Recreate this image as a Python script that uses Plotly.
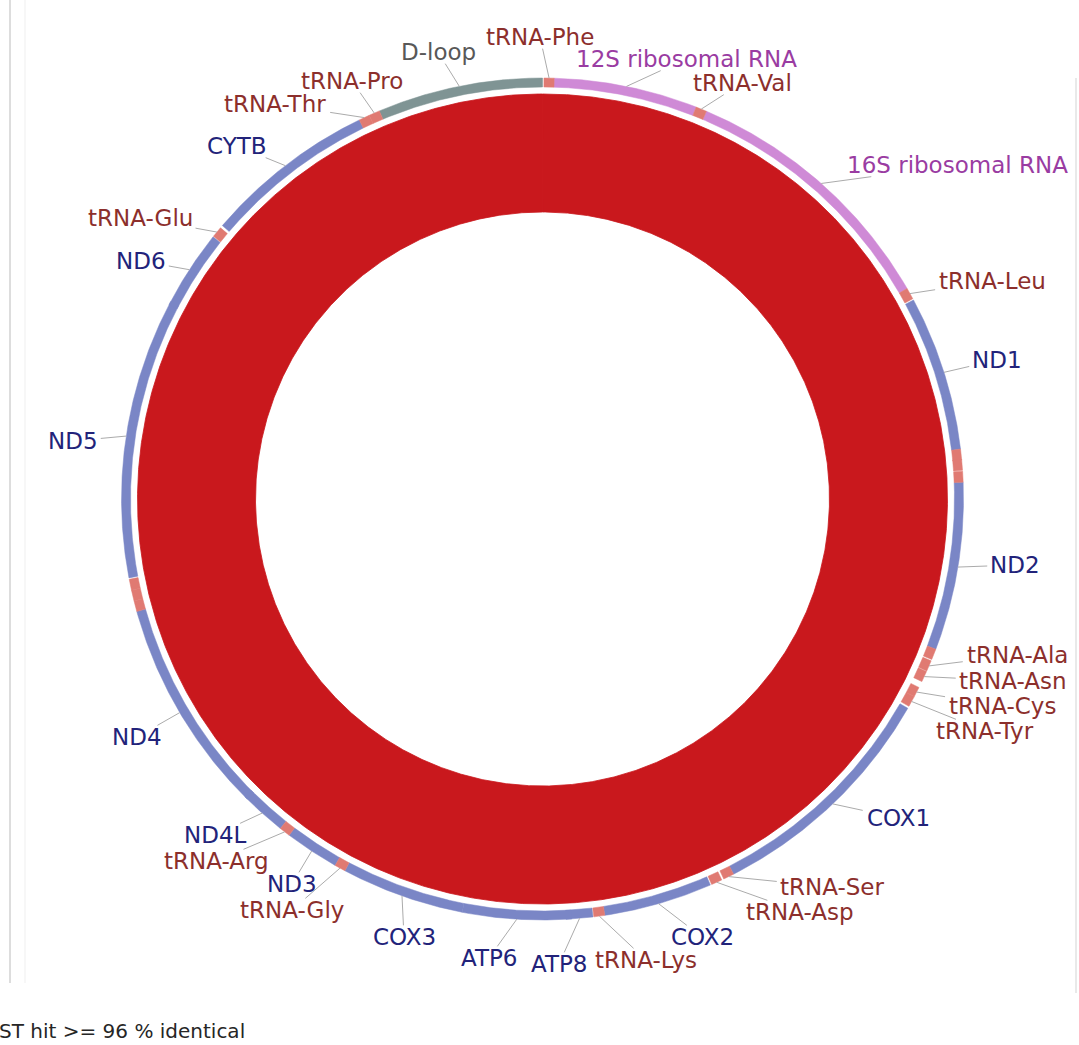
import math
import plotly.graph_objects as go

# ---------------------------------------------------------------- data
GENOME_LENGTH = 16500

feature_names = [
    "tRNA-Phe", "12S ribosomal RNA", "tRNA-Val", "16S ribosomal RNA", "tRNA-Leu",
    "ND1", "tRNA-Ile", "tRNA-Gln", "tRNA-Met", "ND2",
    "tRNA-Trp", "tRNA-Ala", "tRNA-Asn", "tRNA-Cys", "tRNA-Tyr",
    "COX1", "tRNA-Ser", "tRNA-Asp", "COX2", "tRNA-Lys",
    "ATP8", "ATP6", "COX3", "tRNA-Gly", "ND3",
    "tRNA-Arg", "ND4L", "ND4", "tRNA-His", "tRNA-Ser",
    "tRNA-Leu", "ND5", "ND6", "tRNA-Glu", "CYTB",
    "tRNA-Thr", "tRNA-Pro", "D-loop",
]
feature_starts = [
    9, 73, 981, 1050, 2750,
    2832, 3813, 3877, 3951, 4020,
    5083, 5161, 5234, 5344, 5408,
    5491, 7013, 7095, 7173, 7860,
    7934, 8067, 8754, 9533, 9602,
    9946, 10015, 10290, 11665, 11733,
    11802, 11880, 13635, 14144, 14231,
    15318, 15386, 15455,
]
feature_ends = [
    73, 981, 1050, 2750, 2823,
    3813, 3882, 3946, 4020, 5083,
    5152, 5230, 5303, 5408, 5477,
    7013, 7081, 7164, 7860, 7929,
    8103, 8754, 9533, 9602, 9946,
    10015, 10312, 11665, 11733, 11802,
    11871, 13658, 14140, 14213, 15318,
    15386, 15455, 16500,
]
feature_kinds = [
    "tRNA", "rRNA", "tRNA", "rRNA", "tRNA",
    "CDS", "tRNA", "tRNA", "tRNA", "CDS",
    "tRNA", "tRNA", "tRNA", "tRNA", "tRNA",
    "CDS", "tRNA", "tRNA", "CDS", "tRNA",
    "CDS", "CDS", "CDS", "tRNA", "CDS",
    "tRNA", "CDS", "CDS", "tRNA", "tRNA",
    "tRNA", "CDS", "CDS", "tRNA", "CDS",
    "tRNA", "tRNA", "D-loop",
]

# BLAST hits of the query genome against the reference
hit_starts = [1]
hit_ends = [16500]
hit_identity = [96]

legend_text = "BLAST hit >= 96 % identical"

# ---------------------------------------------------------------- styling
W, H = 1079, 1045
CX, CY = 542.5, 499.0           # ring centre on the canvas (px)
HIT_RING = (287, 405)           # inner / outer radius of the BLAST ring
FEATURE_RING = (412, 421)       # inner / outer radius of the annotation ring
HIT_COLOR = "#c9181d"
BAND_COLORS = {"CDS": "#7a86c6", "tRNA": "#e07a72", "rRNA": "#cf8ad6", "D-loop": "#7f9494"}
TEXT_COLORS = {"CDS": "#22237a", "tRNA": "#8c2f2c", "rRNA": "#9a3ca2", "D-loop": "#585858"}
FONT = "DejaVu Sans"
LABEL_SIZE = 23

# label centres (px on the canvas), keyed by feature index
LABEL_AT = {
    0: (540, 37), 1: (686, 59), 2: (742, 83), 3: (957, 165), 4: (992, 281),
    5: (997, 360), 9: (1015, 565), 11: (1017, 655), 12: (1013, 681),
    13: (1002, 706), 14: (985, 731), 15: (898, 818), 16: (832, 887),
    17: (800, 912), 18: (702, 937), 19: (646, 960), 20: (559, 964),
    21: (489, 958), 22: (404, 937), 23: (292, 910), 24: (292, 884),
    25: (216, 861), 26: (215, 835), 27: (137, 737), 31: (73, 441),
    32: (141, 261), 33: (140, 218), 34: (237, 146), 35: (275, 104),
    36: (352, 81), 37: (438, 52),
}

# DejaVu Sans advance widths (em) used to size label boxes for leader lines
GLYPH_W = {
    "t": .392, "R": .695, "N": .748, "A": .684, "-": .361, "P": .603, "h": .634,
    "e": .615, "V": .684, "a": .613, "l": .278, "L": .557, "u": .634, "C": .698,
    "O": .787, "X": .685, "Y": .611, "T": .611, "B": .686, "D": .770, "G": .775,
    "y": .592, "s": .521, "r": .411, "o": .612, "p": .635, "n": .634, "i": .278,
    "b": .635, "m": .974, "S": .635, "g": .635, "c": .550, " ": .318,
}


def text_width(s, size):
    return sum(GLYPH_W.get(ch, 0.636) for ch in s) * size


def bp_to_angle(bp):
    return bp / GENOME_LENGTH * 2 * math.pi


def polar_xy(r, ang):
    # clockwise from 12 o'clock, y pointing up
    return r * math.sin(ang), r * math.cos(ang)


def annulus(start, end, r0, r1, step_deg=0.2):
    a0, a1 = bp_to_angle(start), bp_to_angle(end)
    n = max(2, int(math.degrees(a1 - a0) / step_deg) + 2)
    angs = [a0 + (a1 - a0) * k / (n - 1) for k in range(n)]
    xs, ys = [], []
    for a in angs:
        x, y = polar_xy(r1, a)
        xs.append(x); ys.append(y)
    for a in reversed(angs):
        x, y = polar_xy(r0, a)
        xs.append(x); ys.append(y)
    xs.append(xs[0]); ys.append(ys[0])
    return xs, ys


def to_data(px, py):
    return px - CX, CY - py


fig = go.Figure()

# BLAST hit ring
for s, e in zip(hit_starts, hit_ends):
    xs, ys = annulus(s, e, HIT_RING[0], HIT_RING[1])
    fig.add_trace(go.Scatter(x=xs, y=ys, mode="lines", fill="toself",
                             fillcolor=HIT_COLOR, line=dict(color=HIT_COLOR, width=0.8),
                             hoverinfo="skip", showlegend=False))

# annotation ring: genes first, small RNAs on top
order = sorted(range(len(feature_names)), key=lambda i: feature_kinds[i] == "tRNA")
for i in order:
    c = BAND_COLORS[feature_kinds[i]]
    xs, ys = annulus(feature_starts[i], feature_ends[i], FEATURE_RING[0], FEATURE_RING[1])
    fig.add_trace(go.Scatter(x=xs, y=ys, mode="lines", fill="toself",
                             fillcolor=c, line=dict(color=c, width=0.5),
                             hoverinfo="skip", showlegend=False))

# leader lines and labels
lx, ly = [], []
annotations = []
for i, (px, py) in LABEL_AT.items():
    name = feature_names[i]
    mid = (feature_starts[i] + feature_ends[i]) / 2
    bx, by = polar_xy(FEATURE_RING[1], bp_to_angle(mid))
    tx, ty = to_data(px, py)
    hw = text_width(name, LABEL_SIZE) / 2 + 3
    hh = LABEL_SIZE * 0.42 + 2
    dx, dy = bx - tx, by - ty
    sc = min(hw / abs(dx) if dx else 1e9, hh / abs(dy) if dy else 1e9)
    ex, ey = tx + dx * sc, ty + dy * sc
    lx += [bx, ex, None]
    ly += [by, ey, None]
    annotations.append(dict(x=tx, y=ty, xref="x", yref="y", text=name, showarrow=False,
                            xanchor="center", yanchor="middle",
                            font=dict(family=FONT, size=LABEL_SIZE,
                                      color=TEXT_COLORS[feature_kinds[i]])))

fig.add_trace(go.Scatter(x=lx, y=ly, mode="lines",
                         line=dict(color="#ababab", width=1),
                         hoverinfo="skip", showlegend=False))

# legend line beneath the map
annotations.append(dict(x=-42 / W, y=1 - 1031 / H, xref="paper", yref="paper",
                        text=legend_text, showarrow=False, xanchor="left", yanchor="middle",
                        font=dict(family=FONT, size=20, color="#262626")))

# panel frame lines
shapes = [
    dict(type="line", xref="paper", yref="paper", x0=10 / W, x1=10 / W,
         y0=1, y1=1 - 983 / H, line=dict(color="#d2d2d2", width=1.5)),
    dict(type="line", xref="paper", yref="paper", x0=25 / W, x1=25 / W,
         y0=1, y1=1 - 983 / H, line=dict(color="#efefef", width=1)),
    dict(type="line", xref="paper", yref="paper", x0=1076 / W, x1=1076 / W,
         y0=1 - 78 / H, y1=1 - 993 / H, line=dict(color="#e2e2e2", width=1.5)),
]

fig.update_layout(
    width=W, height=H,
    margin=dict(l=0, r=0, t=0, b=0),
    paper_bgcolor="white", plot_bgcolor="white",
    xaxis=dict(range=[-CX, W - CX], visible=False, fixedrange=True),
    yaxis=dict(range=[CY - H, CY], visible=False, fixedrange=True),
    annotations=annotations,
    shapes=shapes,
    showlegend=False,
)

fig.write_html("out.html")
